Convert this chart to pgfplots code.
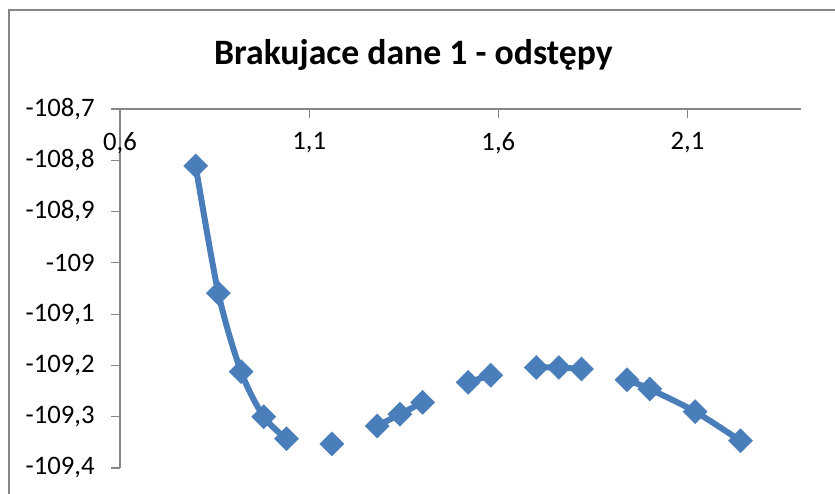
\documentclass[border=0pt]{standalone}
\usepackage{pgfplots}
\pgfplotsset{compat=1.18}
\usepackage{fontspec}
\setmainfont{Carlito}
\definecolor{ser}{HTML}{4A7EBB}
\definecolor{axgray}{HTML}{868686}
\pgfplotstableread{
x y
0.80 -108.811
0.86 -109.059
0.92 -109.212
0.98 -109.300
1.04 -109.343
1.10 nan
1.16 -109.353
1.22 nan
1.28 -109.318
1.34 -109.295
1.40 -109.272
1.46 nan
1.52 -109.233
1.58 -109.219
1.64 nan
1.70 -109.204
1.76 -109.204
1.82 -109.207
1.88 nan
1.94 -109.228
2.00 -109.246
2.12 -109.290
2.24 -109.347
}\datatable
\begin{document}
\begin{tikzpicture}
\useasboundingbox (0,0) rectangle (626.25pt,369.75pt);
\draw[axgray, line width=1.5pt] (6.75pt,-20pt) -- (6.75pt,362.25pt) -- (650pt,362.25pt);
\node[font=\fontsize{26.8}{32}\selectfont\bfseries, anchor=center] at (310.1pt,328.5pt) {Brakujace dane 1 - odstępy};
\begin{axis}[
  at={(90pt,18.75pt)}, anchor=south west,
  scale only axis, width=510.75pt, height=269.25pt,
  xmin=0.6, xmax=2.4, ymin=-109.4, ymax=-108.7,
  axis x line*=top, axis y line*=left,
  axis line style={-, draw=axgray, line width=0.9pt},
  xtick={0.6,1.1,1.6,2.1},
  ytick={-109.4,-109.3,-109.2,-109.1,-109,-108.9,-108.8,-108.7},
  major tick length=6.5pt,
  x tick style={draw=axgray, line width=0.9pt},
  y tick style={draw=axgray, line width=0.9pt},
  xtick align=inside, ytick align=outside,
  scaled ticks=false,
  /pgf/number format/.cd, use comma, 1000 sep={}, assume math mode=true,
  /pgfplots/.cd,
  tick label style={font=\fontsize{20}{24}\selectfont, text=black},
  xticklabel style={anchor=center, yshift=-25.5pt},
  yticklabel style={xshift=-9pt},
  unbounded coords=jump,
  clip=false,
]
\addplot[color=ser, line width=4.5pt, smooth, tension=0.5,
  mark=square*, mark size=6.3pt,
  mark options={rotate=45, fill=ser, draw=ser, line width=0.5pt, solid}]
  table[x=x, y=y] {\datatable};
\end{axis}
\end{tikzpicture}
\end{document}
